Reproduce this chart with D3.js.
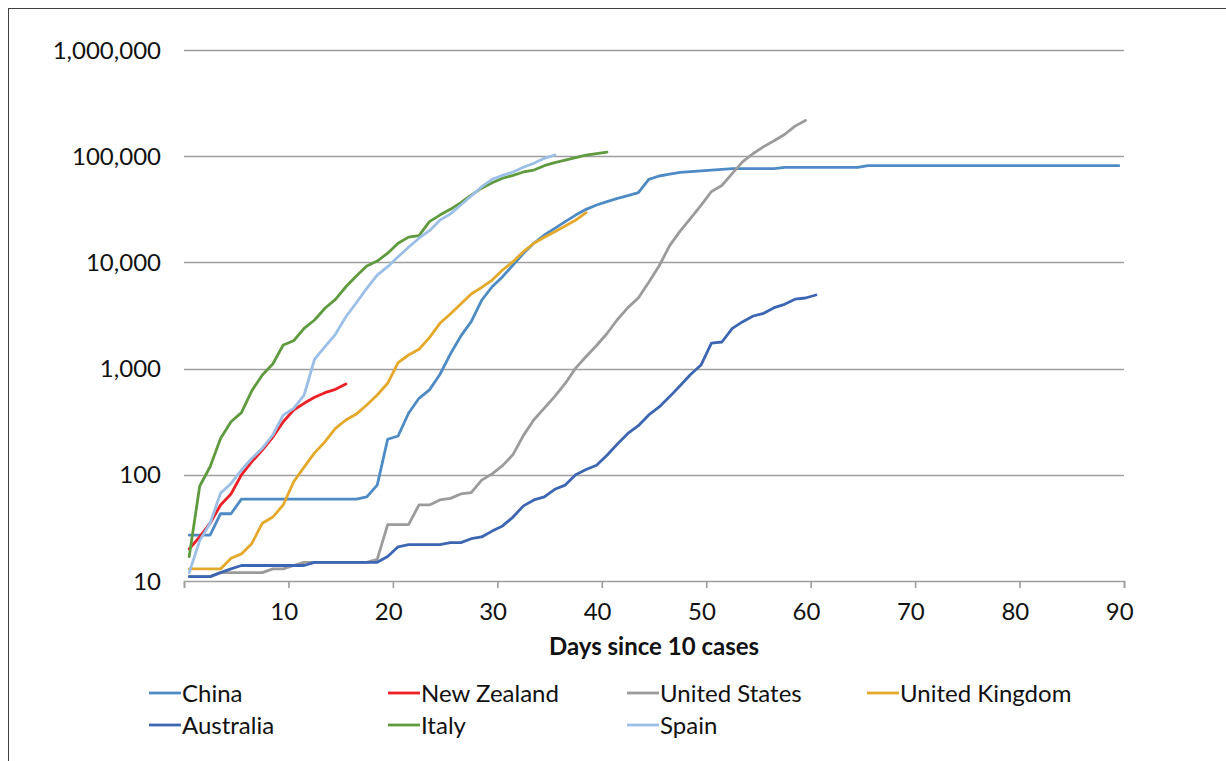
<!DOCTYPE html>
<html>
<head>
<meta charset="utf-8">
<script src="https://cdn.jsdelivr.net/npm/d3@7"></script>
<style>
  html, body { margin: 0; padding: 0; background: #fff; }
  svg text { font-family: Lato, "Open Sans", sans-serif; fill: #111; }
</style>
</head>
<body>
<svg id="chart" width="1226" height="761"></svg>
<script>
// ---- Data ----
const xTickLabels = [10, 20, 30, 40, 50, 60, 70, 80, 90];
const yTickValues = [10, 100, 1000, 10000, 100000, 1000000];

const seriesNames = ["China", "New Zealand", "United States", "United Kingdom", "Australia", "Italy", "Spain"];
const seriesColors = ["#4E8BC5", "#EC2027", "#9B9B9B", "#E4A82A", "#3D66B2", "#5F9B3E", "#9BBFE6"];

const china = [27, 27, 27, 43, 43, 59, 59, 59, 59, 59, 59, 59, 59, 59, 59, 59, 59, 62, 80,
  216, 232, 380, 525, 630, 880, 1370, 2020, 2770, 4400, 5900, 7340, 9450, 12190, 15140, 18100,
  20900, 24200, 27900, 31600, 34700, 37300, 40100, 42500, 45300, 60600, 65100, 67700, 70500,
  71500, 72600, 73800, 75000, 76300, 76300, 76300, 76300, 76300,
  78600, 78600, 78600, 78600, 78600, 78600, 78600, 78600,
  81400, 81400, 81400, 81400, 81400, 81400, 81400, 81400, 81400, 81400, 81400, 81400, 81400,
  81400, 81400, 81400, 81400, 81400, 81400, 81400, 81400, 81400, 81400, 81400, 81400];
const newZealand = [20, 26, 35, 52, 66, 100, 133, 171, 226, 316, 408, 471, 537, 593, 638, 716];
const unitedStates = [11, 11, 11, 12, 12, 12, 12, 12, 13, 13, 14, 15, 15, 15, 15, 15, 15, 15, 16,
  34, 34, 34, 52, 52, 58, 60, 66, 68, 89, 102, 122, 155, 235, 330, 425, 548, 725, 1010, 1300,
  1650, 2140, 2900, 3750, 4630, 6500, 9300, 14400, 19700, 26000, 34500, 46500, 53000, 69000,
  88800, 106000, 123000, 140000, 160000, 192000, 217000];
const unitedKingdom = [13, 13, 13, 13, 16.4, 18, 22.6, 35, 40, 52, 86, 118, 161, 205, 274, 328,
  373, 454, 564, 727, 1137, 1343, 1520, 1960, 2670, 3270, 4060, 5040, 5820, 6820, 8480, 10160,
  12620, 15140, 17220, 19450, 22000, 25000, 29400];
const australia = [11, 11, 11, 12, 13, 14, 14, 14, 14, 14, 14, 14, 15, 15, 15, 15, 15, 15, 15,
  17, 21, 22, 22, 22, 22, 23, 23, 25, 26, 29.5, 33, 40, 51, 58, 62, 73, 80, 100, 112, 123, 153,
  195, 245, 290, 366, 436, 545, 690, 880, 1080, 1740, 1780, 2395, 2766, 3127, 3317, 3745, 4030,
  4500, 4620, 4930];
const italy = [17, 78, 119, 220, 316, 385, 620, 870, 1104, 1667, 1830, 2390, 2870, 3700, 4490,
  5900, 7450, 9250, 10300, 12200, 15140, 17300, 17900, 24200, 27900, 31600, 36500, 43000, 50000,
  56300, 62000, 66000, 71000, 74100, 81400, 86900, 92000, 96800, 102600, 105500, 109000];
const spain = [12, 24, 35, 67, 83, 111, 143, 178, 237, 365, 422, 564, 1225, 1607, 2104, 3080,
  4170, 5700, 7600, 9120, 11300, 13870, 16900, 19900, 25000, 28600, 34700, 42200, 51600, 60600,
  66000, 71000, 78600, 85700, 95500, 102600];

const seriesValues = [china, newZealand, unitedStates, unitedKingdom, australia, italy, spain];

// ---- Layout ----
const svg = d3.select("#chart");
const plot = { left: 184, right: 1124, top: 50, bottom: 581 };

// outer frame (extends beyond the picture on the right/bottom)
svg.append("rect")
  .attr("x", 8.5).attr("y", 8.5)
  .attr("width", 1300).attr("height", 900)
  .attr("fill", "none").attr("stroke", "#404040").attr("stroke-width", 1);

const x = d3.scaleLinear().domain([0.5, 90.5]).range([plot.left, plot.right]);
const y = d3.scaleLog().domain([10, 1000000]).range([plot.bottom, plot.top]);

// gridlines
svg.append("g").selectAll("line")
  .data(yTickValues.slice(1))
  .join("line")
  .attr("x1", plot.left).attr("x2", plot.right)
  .attr("y1", d => Math.round(y(d)) + 0.5).attr("y2", d => Math.round(y(d)) + 0.5)
  .attr("stroke", "#9E9E9E").attr("stroke-width", 1.6);

// y tick labels
const fmt = d3.format(",");
svg.append("g").selectAll("text")
  .data(yTickValues)
  .join("text")
  .attr("x", 161)
  .attr("y", d => y(d))
  .attr("dy", "0.36em")
  .attr("text-anchor", "end")
  .style("font-size", "24px")
  .text(d => fmt(d));

// x axis line + ticks
const xAxis = d3.axisBottom(x)
  .tickValues([0.5, 10.5, 20.5, 30.5, 40.5, 50.5, 60.5, 70.5, 80.5, 90.5])
  .tickSize(7)
  .tickFormat("");
const gx = svg.append("g")
  .attr("transform", `translate(0,${plot.bottom})`)
  .call(xAxis);
gx.select(".domain").attr("stroke", "#9E9E9E").attr("stroke-width", 1.6);
gx.selectAll(".tick line").attr("stroke", "#9E9E9E").attr("stroke-width", 1.6);

// x tick labels (centred on their categories)
svg.append("g").selectAll("text")
  .data(xTickLabels)
  .join("text")
  .attr("x", d => x(d) + 1)
  .attr("y", 620)
  .attr("text-anchor", "middle")
  .style("font-size", "24px")
  .text(d => d);

// x axis title
svg.append("text")
  .attr("x", (plot.left + plot.right) / 2)
  .attr("y", 655)
  .attr("text-anchor", "middle")
  .style("font-size", "24px")
  .style("font-weight", "bold")
  .text("Days since 10 cases");

// lines
const line = d3.line()
  .x((d, i) => x(i + 1))
  .y(d => y(d));

svg.append("g").selectAll("path")
  .data(seriesValues)
  .join("path")
  .attr("d", d => line(d))
  .attr("fill", "none")
  .attr("stroke", (d, i) => seriesColors[i])
  .attr("stroke-width", 2.8)
  .attr("stroke-linejoin", "round")
  .attr("stroke-linecap", "round");

// legend
const legendCols = [149, 388, 627, 867];
const legendRows = [693, 725];
const lg = svg.append("g").selectAll("g")
  .data(seriesNames)
  .join("g")
  .attr("transform", (d, i) => `translate(${legendCols[i % 4]},${legendRows[Math.floor(i / 4)]})`);
lg.append("line")
  .attr("x1", 0).attr("x2", 32).attr("y1", 0).attr("y2", 0)
  .attr("stroke", (d, i) => seriesColors[i]).attr("stroke-width", 2.8);
lg.append("text")
  .attr("x", 33).attr("y", 0).attr("dy", "0.36em")
  .style("font-size", "24px")
  .text(d => d);
</script>
</body>
</html>
